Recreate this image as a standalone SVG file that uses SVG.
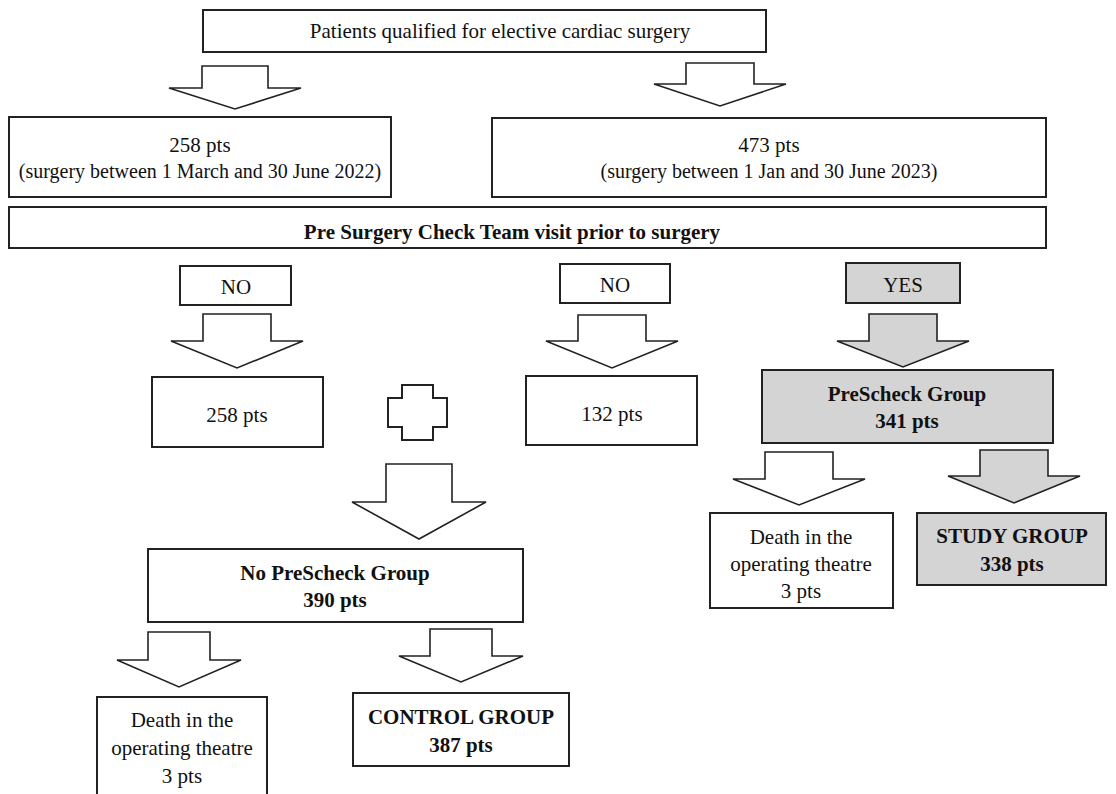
<svg xmlns="http://www.w3.org/2000/svg" width="1116" height="794" viewBox="0 0 1116 794">
<style>
.box{fill:#fff;stroke:#222;stroke-width:2}
.gbox{fill:#d4d4d4;stroke:#222;stroke-width:2}
.arr{fill:#fff;stroke:#222;stroke-width:1.6;stroke-linejoin:miter}
.garr{fill:#d4d4d4;stroke:#222;stroke-width:1.6}
text{font-family:"Liberation Serif","Times New Roman",serif;font-size:20px;fill:#111;text-anchor:middle}
.b{font-weight:bold}
.l{font-size:21px}
</style>
<rect width="1116" height="794" fill="#fff"/>
<g id="n-top"><rect class="box" x="203" y="10" width="563" height="42"/><text class="l" x="500" y="38">Patients qualified for elective cardiac surgery</text></g>
<g id="n-2022"><rect class="box" x="9" y="117" width="382" height="80"/><text class="l" x="200" y="152">258 pts</text><text x="200" y="178">(surgery between 1 March and 30 June 2022)</text></g>
<g id="n-2023"><rect class="box" x="492" y="118" width="554" height="79"/><text class="l" x="769" y="152">473 pts</text><text x="769" y="178">(surgery between 1 Jan and 30 June 2023)</text></g>
<g id="n-visit"><rect class="box" x="9" y="207" width="1037" height="41"/><text class="b l" x="512" y="239">Pre Surgery Check Team visit prior to surgery</text></g>
<g id="n-no1"><rect class="box" x="180" y="266" width="111" height="39"/><text class="l" x="236" y="294">NO</text></g>
<g id="n-no2"><rect class="box" x="560" y="264" width="110" height="39"/><text class="l" x="615" y="292">NO</text></g>
<g id="n-yes"><rect class="gbox" x="846" y="263" width="114" height="40"/><text class="l" x="903" y="292">YES</text></g>
<g id="n-258"><rect class="box" x="152" y="377" width="171" height="70"/><text class="l" x="237" y="422">258 pts</text></g>
<g id="n-132"><rect class="box" x="526" y="376" width="171" height="69"/><text class="l" x="612" y="421">132 pts</text></g>
<g id="n-plus"><path class="box" d="M402,385 H433 V398 H447 V427 H433 V440 H402 V427 H388 V398 H402 Z"/></g>
<g id="n-pre"><rect class="gbox" x="762" y="370" width="291" height="73"/><text class="b l" x="907" y="401">PreScheck Group</text><text class="b l" x="907" y="428">341 pts</text></g>
<g id="n-death2"><rect class="box" x="710" y="513" width="183" height="95"/><text class="l" x="801" y="544">Death in the</text><text class="l" x="801" y="571">operating theatre</text><text class="l" x="801" y="598">3 pts</text></g>
<g id="n-study"><rect class="gbox" x="917" y="513" width="189" height="72"/><text class="b l" x="1012" y="543">STUDY GROUP</text><text class="b l" x="1012" y="571">338 pts</text></g>
<g id="n-nopre"><rect class="box" x="148" y="549" width="375" height="73"/><text class="b l" x="335" y="580">No PreScheck Group</text><text class="b l" x="335" y="607">390 pts</text></g>
<g id="n-death1"><rect class="box" x="97" y="697" width="170" height="110"/><text class="l" x="182" y="727">Death in the</text><text class="l" x="182" y="755">operating theatre</text><text class="l" x="182" y="783">3 pts</text></g>
<g id="n-control"><rect class="box" x="353" y="693" width="216" height="73"/><text class="b l" x="461" y="724">CONTROL GROUP</text><text class="b l" x="461" y="752">387 pts</text></g>
<g id="connectors">
<path class="arr" d="M202,66 H268 V88 H301 L235,109 L169,88 H202 Z"/>
<path class="arr" d="M686,63 H754 V84 H786 L720,106 L654,84 H686 Z"/>
<path class="arr" d="M203,314 H271 V341 H303 L237,368 L171,341 H203 Z"/>
<path class="arr" d="M578,315 H646 V341 H678 L612,368 L546,341 H578 Z"/>
<path class="garr" d="M869,314 H937 V341 H969 L903,367 L837,341 H869 Z"/>
<path class="arr" d="M765,452 H833 V479 H865 L799,505 L733,479 H765 Z"/>
<path class="garr" d="M980,450 H1048 V476 H1080 L1014,503 L948,476 H980 Z"/>
<path class="arr" d="M386,464 H452 V502 H486 L419,539 L352,502 H386 Z"/>
<path class="arr" d="M148,632 H210 V660 H241 L179,687 L117,660 H148 Z"/>
<path class="arr" d="M430,629 H492 V656 H523 L461,682 L399,656 H430 Z"/>
</g>
</svg>
